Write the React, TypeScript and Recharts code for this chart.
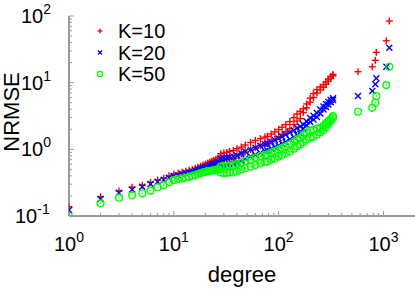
import React from 'react';
import { ScatterChart, Scatter, XAxis, YAxis, Legend } from 'recharts';

const degrees = [
  1, 2, 3, 4, 5, 6, 7, 8, 9, 10, 11, 12, 13, 14, 15, 16, 17, 18, 19, 20, 21, 22, 23, 24, 25, 26, 27,
  28, 28, 30, 30, 32, 32, 34, 34, 37, 37, 40, 40, 44, 44, 48, 48, 54, 54, 60, 60, 67, 67, 74, 74,
  78, 78, 85, 85, 92, 92, 100, 100, 108, 108, 117, 117, 128, 128, 140, 140, 150, 150, 161, 161,
  172, 172, 185, 185, 200, 200, 215, 215, 232, 232, 250, 250, 268, 268, 283, 283, 298, 298,
  314, 314, 330, 330,
  572, 783, 837, 855, 1066, 1138,
];

const nrmseK10 = [
  0.138, 0.195, 0.237, 0.27, 0.29, 0.32, 0.347, 0.37, 0.4, 0.425, 0.44, 0.455, 0.47, 0.485, 0.5, 0.52, 0.54, 0.56, 0.58, 0.6, 0.62, 0.64, 0.66, 0.68, 0.7, 0.72, 0.74,
  0.86, 0.67, 0.88, 0.69, 0.9, 0.71, 0.93, 0.73, 0.96, 0.75, 1.02, 0.8, 1.08, 0.85, 1.16, 0.91, 1.27, 0.99, 1.36, 1.06, 1.45, 1.13, 1.53, 1.19,
  1.56, 1.22, 1.7, 1.33, 1.83, 1.43, 1.98, 1.55, 2.15, 1.68, 2.35, 1.84, 2.61, 2.04, 2.99, 2.35, 3.39, 2.66, 3.7, 2.89,
  4.05, 3.55, 4.8, 4.2, 5.85, 5.1, 6.85, 6.0, 7.9, 7.0, 8.6, 7.8, 9.3, 8.5, 10.3, 9.5, 11.3, 10.5,
  12.4, 11.6, 13.3, 12.7,
  14.6, 17.3, 21.6, 28.5, 42.5, 84,
];

const nrmseK20 = [
  0.123, 0.18, 0.224, 0.25, 0.275, 0.302, 0.327, 0.35, 0.375, 0.398, 0.41, 0.425, 0.44, 0.45, 0.465, 0.48, 0.495, 0.51, 0.525, 0.54, 0.555, 0.57, 0.585, 0.6, 0.615, 0.63, 0.64,
  0.73, 0.57, 0.74, 0.58, 0.75, 0.59, 0.76, 0.6, 0.78, 0.61, 0.81, 0.64, 0.87, 0.68, 0.93, 0.73, 0.99, 0.78, 1.06, 0.83, 1.13, 0.885, 1.2, 0.94,
  1.22, 0.96, 1.3, 1.02, 1.38, 1.08, 1.46, 1.14, 1.55, 1.21, 1.65, 1.29, 1.79, 1.4, 1.94, 1.52, 2.09, 1.64, 2.2, 1.73,
  2.35, 2.05, 2.62, 2.29, 2.94, 2.57, 3.2, 2.8, 3.5, 3.06, 3.95, 3.45, 4.4, 3.95, 4.8, 4.3, 5.15, 4.7,
  5.5, 5.1, 5.85, 5.5,
  6.3, 7.5, 9.5, 11.6, 17.3, 33.4,
];

const nrmseK50 = [
  0.1, 0.155, 0.188, 0.204, 0.219, 0.24, 0.27, 0.29, 0.32, 0.345, 0.355, 0.365, 0.375, 0.385, 0.4, 0.41, 0.425, 0.44, 0.45, 0.46, 0.47, 0.475, 0.48, 0.485, 0.49, 0.495, 0.5,
  0.55, 0.45, 0.56, 0.44, 0.565, 0.445, 0.57, 0.45, 0.58, 0.45, 0.6, 0.47, 0.63, 0.5, 0.67, 0.52, 0.7, 0.55, 0.75, 0.58, 0.79, 0.62, 0.82, 0.65,
  0.84, 0.655, 0.89, 0.7, 0.94, 0.73, 0.99, 0.78, 1.05, 0.82, 1.11, 0.87, 1.19, 0.93, 1.3, 1.02, 1.41, 1.11, 1.5, 1.18,
  1.64, 1.28, 1.79, 1.4, 1.92, 1.5, 1.95, 1.55, 2.05, 1.65, 2.1, 1.8, 2.25, 1.95, 2.45, 2.15, 2.65, 2.4,
  2.85, 2.65, 3.15, 2.95,
  3.66, 4.2, 5.0, 6.3, 9.2, 17.3,
];

const seriesNames = ['K=10', 'K=20', 'K=50'];
const seriesColors = ['#ff0000', '#0000ff', '#00ff00'];

const xTicks = [
  1, 2, 3, 4, 5, 6, 7, 8, 9,
  10, 20, 30, 40, 50, 60, 70, 80, 90,
  100, 200, 300, 400, 500, 600, 700, 800, 900,
  1000,
];
const yTicks = [
  0.1, 0.2, 0.3, 0.4, 0.5, 0.6, 0.7, 0.8, 0.9,
  1, 2, 3, 4, 5, 6, 7, 8, 9,
  10, 20, 30, 40, 50, 60, 70, 80, 90,
  100,
];

const FONT = '"Liberation Sans", Arial, Helvetica, sans-serif';
const AXIS_COLOR = '#9a9a9a';

const build = (vals: number[]) => degrees.map((d, i) => ({ d, v: vals[i] }));
const dataK10 = build(nrmseK10);
const dataK20 = build(nrmseK20);
const dataK50 = build(nrmseK50);

const expOf = (v: number) => {
  const l = Math.log10(v);
  const e = Math.round(l);
  return { e, major: Math.abs(l - e) < 1e-6 };
};

const XTick = (props: any) => {
  const { x, y, payload } = props;
  const { e, major } = expOf(payload.value);
  return (
    <g>
      <line x1={x} y1={y} x2={x} y2={y - (major ? 5 : 3)} stroke={AXIS_COLOR} strokeWidth={1} />
      {major && (
        <text x={x} y={y + 35} textAnchor="middle" fontSize={20} fill="#000" fontFamily={FONT}>
          10<tspan dy={-9} fontSize={14}>{e}</tspan>
        </text>
      )}
    </g>
  );
};

const YTick = (props: any) => {
  const { x, y, payload } = props;
  const { e, major } = expOf(payload.value);
  return (
    <g>
      <line x1={x} y1={y} x2={x + (major ? 5 : 3)} y2={y} stroke={AXIS_COLOR} strokeWidth={1} />
      {major && (
        <text x={x - (e < 0 ? 54 : 48)} y={y + 7} textAnchor="start" fontSize={20} fill="#000" fontFamily={FONT}>
          10<tspan dy={-9} fontSize={14}>{e}</tspan>
        </text>
      )}
    </g>
  );
};

const PlusShape = (props: any) => {
  const { cx, cy } = props;
  const s = 3.5;
  return (
    <g stroke={seriesColors[0]} strokeWidth={1.4}>
      <line x1={cx - s} y1={cy} x2={cx + s} y2={cy} />
      <line x1={cx} y1={cy - s} x2={cx} y2={cy + s} />
    </g>
  );
};

const CrossShape = (props: any) => {
  const { cx, cy } = props;
  const s = 3;
  return (
    <g stroke={seriesColors[1]} strokeWidth={1.4}>
      <line x1={cx - s} y1={cy - s} x2={cx + s} y2={cy + s} />
      <line x1={cx - s} y1={cy + s} x2={cx + s} y2={cy - s} />
    </g>
  );
};

const CircleShape = (props: any) => {
  const { cx, cy } = props;
  return (
    <g>
      <circle cx={cx} cy={cy} r={3.4} fill="none" stroke={seriesColors[2]} strokeWidth={1.4} />
      <circle cx={cx} cy={cy} r={0.8} fill={seriesColors[2]} />
    </g>
  );
};

const legendMarker = (i: number, cx: number, cy: number) => {
  const c = seriesColors[i];
  if (i === 0) {
    return (
      <g stroke={c} strokeWidth={1.3}>
        <line x1={cx - 2.5} y1={cy} x2={cx + 2.5} y2={cy} />
        <line x1={cx} y1={cy - 2.5} x2={cx} y2={cy + 2.5} />
      </g>
    );
  }
  if (i === 1) {
    return (
      <g stroke={c} strokeWidth={1.3}>
        <line x1={cx - 2} y1={cy - 2} x2={cx + 2} y2={cy + 2} />
        <line x1={cx - 2} y1={cy + 2} x2={cx + 2} y2={cy - 2} />
      </g>
    );
  }
  return (
    <g>
      <circle cx={cx} cy={cy} r={2.6} fill="none" stroke={c} strokeWidth={1.2} />
      <circle cx={cx} cy={cy} r={0.6} fill={c} />
    </g>
  );
};

const renderLegend = () => (
  <svg width={130} height={75} style={{ display: 'block' }}>
    {seriesNames.map((name, i) => {
      const cy = 13 + i * 21.5;
      return (
        <g key={name}>
          {legendMarker(i, 10, cy)}
          <text x={28} y={cy + 7} fontSize={20} fontFamily={FONT} fill="#000">
            {name}
          </text>
        </g>
      );
    })}
  </svg>
);

const XLabel = (props: any) => {
  const vb = props.viewBox || { x: 69, y: 216, width: 346, height: 75 };
  return (
    <text x={vb.x + vb.width / 2} y={vb.y + 66} textAnchor="middle" fontSize={22} fontFamily={FONT} fill="#000">
      degree
    </text>
  );
};

const YLabel = () => {
  const cx = 11;
  const cy = 112;
  return (
    <text
      x={cx}
      y={cy}
      transform={`rotate(-90, ${cx}, ${cy})`}
      textAnchor="middle"
      dominantBaseline="central"
      fontSize={22}
      fontFamily={FONT}
      fill="#000"
    >
      NRMSE
    </text>
  );
};

export default function App() {
  return (
    <div style={{ position: 'absolute', left: 0, top: 0, width: 415, height: 291, background: '#fff' }}>
      <ScatterChart width={415} height={291} margin={{ top: 16, right: 0, bottom: 0, left: 0 }}>
        <XAxis
          dataKey="d"
          type="number"
          scale="log"
          domain={[1, 2000]}
          allowDataOverflow
          ticks={xTicks}
          interval={0}
          tick={<XTick />}
          tickLine={false}
          tickSize={0}
          tickMargin={0}
          height={75}
          axisLine={{ stroke: AXIS_COLOR, strokeWidth: 2 }}
          label={<XLabel />}
        />
        <YAxis
          dataKey="v"
          type="number"
          scale="log"
          domain={[0.1, 100]}
          allowDataOverflow
          ticks={yTicks}
          interval={0}
          tick={<YTick />}
          tickLine={false}
          tickSize={0}
          tickMargin={0}
          width={69}
          axisLine={{ stroke: AXIS_COLOR, strokeWidth: 2 }}
          label={<YLabel />}
        />
        <Legend
          layout="vertical"
          align="center"
          verticalAlign="middle"
          wrapperStyle={{ left: 90, top: 18, width: 130, height: 75 }}
          content={renderLegend}
        />
        <Scatter name={seriesNames[0]} data={dataK10} shape={<PlusShape />} isAnimationActive={false} />
        <Scatter name={seriesNames[1]} data={dataK20} shape={<CrossShape />} isAnimationActive={false} />
        <Scatter name={seriesNames[2]} data={dataK50} shape={<CircleShape />} isAnimationActive={false} />
      </ScatterChart>
    </div>
  );
}
